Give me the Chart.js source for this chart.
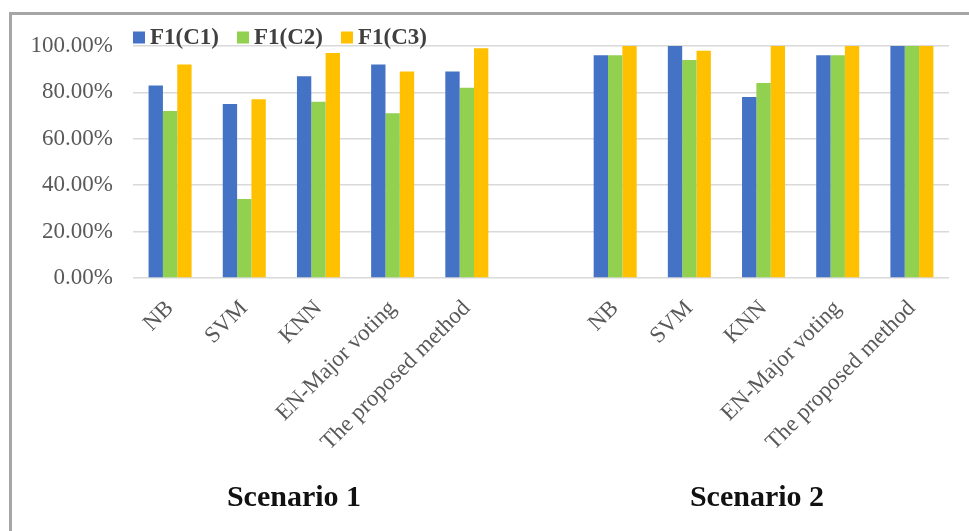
<!DOCTYPE html>
<html>
<head>
<meta charset="utf-8">
<script src="https://cdn.jsdelivr.net/npm/chart.js@4/dist/chart.umd.min.js"></script>
<style>
  html, body { margin: 0; padding: 0; background: #ffffff; }
  #wrap { position: relative; width: 969px; height: 531px; overflow: hidden; }
  #frame {
    position: absolute; left: 9px; top: 12px; width: 980px; height: 540px;
    border-top: 3px solid #a6a6a6; border-left: 3px solid #a6a6a6;
    box-sizing: border-box; pointer-events: none;
  }
  canvas { position: absolute; left: 0; top: 0; }
</style>
</head>
<body>
<div id="wrap">
  <canvas id="chart" width="969" height="531"></canvas>
  <div id="frame"></div>
</div>
<script>
// Classifier names for both scenarios; the blank slot separates the two groups.
const categories = ['NB', 'SVM', 'KNN', 'EN-Major voting', 'The proposed method', '',
                    'NB', 'SVM', 'KNN', 'EN-Major voting', 'The proposed method'];

// F1 scores (%) per class.
const f1C1 = [83, 75, 87, 92, 89, null, 96, 100, 78, 96, 100];
const f1C2 = [72, 34, 76, 71, 82, null, 96, 94, 84, 96, 100];
const f1C3 = [92, 77, 97, 89, 99, null, 100, 98, 100, 100, 100];

const seriesNames = ['F1(C1)', 'F1(C2)', 'F1(C3)'];
const scenarioNames = ['Scenario 1', 'Scenario 2'];

const colors = ['#4472C4', '#92D050', '#FFC000'];
const serif = '"Liberation Serif", "DejaVu Serif", serif';

// Legend drawn inline along the top edge of the plot, plus the scenario captions.
const annotations = {
  id: 'annotations',
  afterDraw(chart) {
    const ctx = chart.ctx;
    ctx.save();
    // legend
    ctx.font = 'bold 23px ' + serif;
    ctx.textBaseline = 'middle';
    ctx.textAlign = 'left';
    let x = 133;
    const cy = 37.5;
    chart.data.datasets.forEach((ds) => {
      ctx.fillStyle = ds.backgroundColor;
      ctx.fillRect(x, cy - 6, 12, 12);
      ctx.fillStyle = '#404040';
      ctx.fillText(ds.label, x + 17, cy + 1);
      x += 17 + ctx.measureText(ds.label).width + 18;
    });
    // scenario captions
    ctx.font = 'bold 30px ' + serif;
    ctx.fillStyle = '#111111';
    ctx.textAlign = 'center';
    ctx.fillText(scenarioNames[0], 294, 498);
    ctx.fillText(scenarioNames[1], 757, 498);
    ctx.restore();
  }
};

new Chart(document.getElementById('chart'), {
  type: 'bar',
  data: {
    labels: categories,
    datasets: [
      { label: seriesNames[0], data: f1C1, backgroundColor: colors[0] },
      { label: seriesNames[1], data: f1C2, backgroundColor: colors[1] },
      { label: seriesNames[2], data: f1C3, backgroundColor: colors[2] }
    ]
  },
  options: {
    responsive: false,
    animation: false,
    layout: { padding: { top: 46, right: 20, left: 0, bottom: 0 } },
    datasets: { bar: { categoryPercentage: 0.58, barPercentage: 1.0, borderWidth: 0 } },
    plugins: {
      legend: { display: false },
      tooltip: { enabled: false }
    },
    scales: {
      x: {
        grid: { display: false, drawTicks: false },
        border: { display: false },
        ticks: {
          autoSkip: false,
          minRotation: 45,
          maxRotation: 45,
          padding: 17,
          color: '#595959',
          font: { family: serif, size: 23 }
        },
        afterFit(scale) { scale.height = 253; }
      },
      y: {
        min: 0,
        max: 100,
        grid: { color: '#d9d9d9', lineWidth: 1.5, drawTicks: false },
        border: { display: false },
        ticks: {
          stepSize: 20,
          padding: 20,
          color: '#595959',
          font: { family: serif, size: 23 },
          callback: (v) => v.toFixed(2) + '%'
        },
        afterFit(scale) { scale.width = 133; }
      }
    }
  },
  plugins: [annotations]
});
</script>
</body>
</html>
